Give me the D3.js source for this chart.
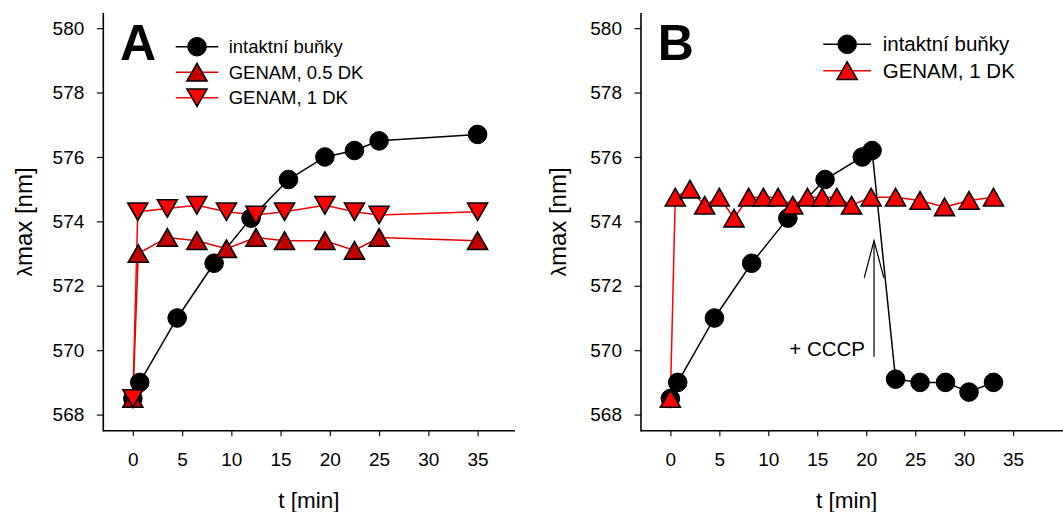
<!DOCTYPE html>
<html><head><meta charset="utf-8">
<script src="https://cdn.jsdelivr.net/npm/d3@7"></script>
<style>
html,body{margin:0;padding:0;background:#fff;}
svg{display:block;font-family:"Liberation Sans",Arial,sans-serif;}
</style></head>
<body>
<svg id="chart" width="1063" height="512"></svg>
<script>
// ---------- data ----------
const xTicksMajor = [0, 5, 10, 15, 20, 25, 30, 35];
const xTicksMinor = [-2.5, 2.5, 7.5, 12.5, 17.5, 22.5, 27.5, 32.5, 37.5];
const yTicksMajor = [568, 570, 572, 574, 576, 578, 580];
const yTicksMinor = [569, 571, 573, 575, 577, 579];

// Panel A
const timeA_cells = [0, 0.7, 4.5, 8.25, 12, 15.8, 19.5, 22.5, 25, 35];
const valA_cells  = [568.5, 569.0, 571.0, 572.7, 574.1, 575.3, 576.0, 576.2, 576.5, 576.7];
const timeA_g05 = [0, 0.55, 3.5, 6.5, 9.5, 12.5, 15.4, 19.5, 22.5, 25, 35];
const valA_g05  = [568.5, 573.0, 573.5, 573.4, 573.15, 573.5, 573.4, 573.4, 573.1, 573.5, 573.4];
const timeA_g1 = [0, 0.5, 3.5, 6.5, 9.5, 12.5, 15.4, 19.5, 22.5, 25, 35];
const valA_g1  = [568.5, 574.3, 574.4, 574.5, 574.3, 574.2, 574.3, 574.5, 574.3, 574.2, 574.3];

// Panel B
const timeB_cells = [0, 0.75, 4.5, 8.3, 12, 15.8, 19.6, 20.6, 23, 25.5, 28.1, 30.5, 33];
const valB_cells  = [568.5, 569.0, 571.0, 572.7, 574.1, 575.3, 576.0, 576.2, 569.1, 569.0, 569.0, 568.7, 569.0];
const timeB_g1 = [0, 0.5, 2, 3.5, 5, 6.5, 8, 9.5, 11, 12.5, 14, 15.5, 17, 18.5, 20.5, 23, 25.5, 28, 30.5, 33];
const valB_g1  = [568.5, 574.75, 575.0, 574.5, 574.75, 574.1, 574.75, 574.75, 574.75, 574.5, 574.75, 574.75, 574.75, 574.5, 574.75, 574.75, 574.65, 574.45, 574.65, 574.75];

const labelsA = ["intaktní buňky", "GENAM, 0.5 DK", "GENAM, 1 DK"];
const labelsB = ["intaktní buňky", "GENAM, 1 DK"];
const cccpLabel = "+ CCCP";
const cccpArrow = {t: 20.8, yBottom: 569.8, yTip: 573.4, armDt: 1.0, armY: 572.25};

// ---------- drawing ----------
const svg = d3.select("#chart");
const FONT = '"Liberation Sans",Arial,sans-serif';

function markerPath(type) {
  const w = 20, h = 17.5;
  if (type === "up") return `M0,${-h/2}L${w/2},${h/2}L${-w/2},${h/2}Z`;
  return `M0,${h/2}L${w/2},${-h/2}L${-w/2},${-h/2}Z`;
}

function drawMarker(g, type, fill, x, y) {
  if (type === "circle") {
    g.append("circle").attr("cx", x).attr("cy", y).attr("r", 9.3)
      .attr("fill", fill).attr("stroke", "#000").attr("stroke-width", 1);
  } else {
    g.append("path").attr("d", markerPath(type))
      .attr("transform", `translate(${x},${y})`)
      .attr("fill", fill).attr("stroke", "#000").attr("stroke-width", 1.6)
      .attr("stroke-linejoin", "miter");
  }
}

function drawPanel(cfg) {
  const g = svg.append("g");
  const x = d3.scaleLinear().domain(cfg.xDomain).range(cfg.xRange);
  const y = d3.scaleLinear().domain([567.5, 580.47]).range([430.7, 13]);

  // axes
  const xAxis = g.append("g").attr("transform", `translate(0,${y(567.5)})`);
  xAxis.call(d3.axisBottom(x).tickValues(xTicksMinor).tickSize(3.5).tickFormat(""));
  xAxis.call(d3.axisBottom(x).tickValues(xTicksMajor).tickSize(5.5).tickPadding(16).tickFormat(d3.format("d")));
  xAxis.selectAll(".domain").remove();
  xAxis.append("line").attr("x1", cfg.xRange[0]).attr("x2", cfg.xRange[1])
    .attr("y1", 0).attr("y2", 0).attr("stroke", "#000").attr("stroke-width", 1.6);
  xAxis.selectAll(".tick line").attr("stroke", "#222").attr("stroke-width", 1.3);
  xAxis.selectAll(".tick text").attr("font-size", 19).attr("font-family", FONT).attr("fill", "#000");

  const yAxis = g.append("g").attr("transform", `translate(${cfg.xRange[0]},0)`);
  yAxis.call(d3.axisLeft(y).tickValues(yTicksMinor).tickSize(4).tickFormat(""));
  yAxis.call(d3.axisLeft(y).tickValues(yTicksMajor).tickSize(6.5).tickPadding(12.5).tickFormat(d3.format("d")));
  yAxis.selectAll(".domain").remove();
  yAxis.append("line").attr("x1", 0).attr("x2", 0)
    .attr("y1", y(580.47)).attr("y2", y(567.5) + 0.8).attr("stroke", "#000").attr("stroke-width", 1.6);
  yAxis.selectAll(".tick line").attr("stroke", "#222").attr("stroke-width", 1.3);
  yAxis.selectAll(".tick text").attr("font-size", 19).attr("font-family", FONT).attr("fill", "#000");

  // axis titles
  g.append("text").attr("x", cfg.xTitleX).attr("y", 508)
    .attr("text-anchor", "middle").attr("font-size", 22.5).attr("font-family", FONT)
    .text("t [min]");
  const yt = g.append("text")
    .attr("transform", `translate(${cfg.yTitleX},222) rotate(-90)`)
    .attr("text-anchor", "middle").attr("font-size", 24).attr("font-family", FONT);
  yt.append("tspan").attr("font-size", 21).text("λ");
  yt.append("tspan").text("max [nm]");

  // panel letter
  g.append("text").attr("x", cfg.letterX).attr("y", 60)
    .attr("font-size", 50).attr("font-weight", "bold").attr("font-family", FONT)
    .text(cfg.letter);

  // lines
  const line = d3.line().x(d => x(d[0])).y(d => y(d[1]));
  cfg.series.forEach(s => {
    const pts = s.t.map((t, i) => [t, s.v[i]]);
    g.append("path").attr("d", line(pts)).attr("fill", "none")
      .attr("stroke", s.lineColor).attr("stroke-width", 1.5);
  });
  // markers
  cfg.series.forEach(s => {
    const mg = g.append("g");
    s.t.forEach((t, i) => drawMarker(mg, s.marker, s.fill, x(t), y(s.v[i])));
  });

  // legend
  const lg = g.append("g");
  cfg.series.forEach((s, i) => {
    const ly = cfg.legend.y0 + i * cfg.legend.dy;
    lg.append("line").attr("x1", cfg.legend.x1).attr("x2", cfg.legend.x2)
      .attr("y1", ly).attr("y2", ly).attr("stroke", s.lineColor).attr("stroke-width", 1.5);
    drawMarker(lg, s.marker, s.fill, (cfg.legend.x1 + cfg.legend.x2) / 2, ly);
    lg.append("text").attr("x", cfg.legend.tx).attr("y", ly).attr("dy", "0.35em")
      .attr("font-size", cfg.legend.fs).attr("font-family", FONT).text(s.label);
  });

  return {g, x, y};
}

drawPanel({
  letter: "A", letterX: 120,
  xDomain: [-3, 38.8], xRange: [103.3, 515],
  xTitleX: 309, yTitleX: 32,
  series: [
    {t: timeA_cells, v: valA_cells, marker: "circle", fill: "#000", lineColor: "#000", label: labelsA[0]},
    {t: timeA_g05, v: valA_g05, marker: "up", fill: "#c00000", lineColor: "#e00000", label: labelsA[1]},
    {t: timeA_g1, v: valA_g1, marker: "down", fill: "#ff0000", lineColor: "#ff0000", label: labelsA[2]}
  ],
  legend: {x1: 175.7, x2: 218.3, tx: 228.7, y0: 46.7, dy: 25.5, fs: 18.5}
});

const pB = drawPanel({
  letter: "B", letterX: 657.7,
  xDomain: [-3, 40.1], xRange: [641, 1063],
  xTitleX: 846.7, yTitleX: 566,
  series: [
    {t: timeB_cells, v: valB_cells, marker: "circle", fill: "#000", lineColor: "#000", label: labelsB[0]},
    {t: timeB_g1, v: valB_g1, marker: "up", fill: "#ff0000", lineColor: "#ff0000", label: labelsB[1]}
  ],
  legend: {x1: 823.3, x2: 871, tx: 882.7, y0: 44.3, dy: 26.4, fs: 20.5}
});

// CCCP annotation in panel B
const ax = pB.x, ay = pB.y;
const ag = pB.g.append("g").attr("stroke", "#000").attr("stroke-width", 1.2).attr("fill", "none");
ag.append("line").attr("x1", ax(cccpArrow.t)).attr("x2", ax(cccpArrow.t))
  .attr("y1", ay(cccpArrow.yBottom)).attr("y2", ay(cccpArrow.yTip));
ag.append("path").attr("d",
  `M${ax(cccpArrow.t - cccpArrow.armDt)},${ay(cccpArrow.armY)}L${ax(cccpArrow.t)},${ay(cccpArrow.yTip)}L${ax(cccpArrow.t + cccpArrow.armDt)},${ay(cccpArrow.armY)}`);
pB.g.append("text").attr("x", ax(cccpArrow.t) - 9).attr("y", ay(cccpArrow.yBottom) - 0.5)
  .attr("text-anchor", "end").attr("font-size", 20.5).attr("font-family", FONT)
  .text(cccpLabel);
</script>
</body></html>
